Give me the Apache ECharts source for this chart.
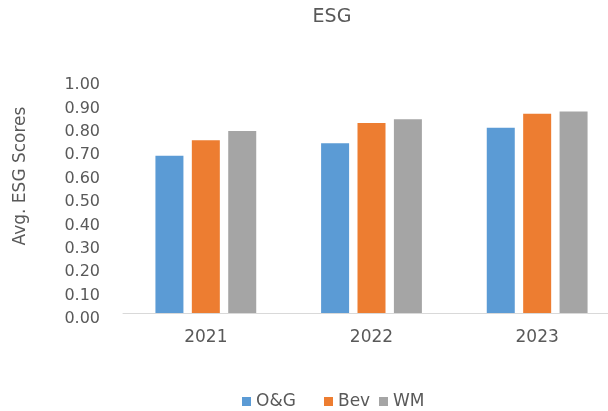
<!DOCTYPE html>
<html><head><meta charset="utf-8">
<script src="https://cdn.jsdelivr.net/npm/echarts@6/dist/echarts.min.js"></script>
<style>html,body{margin:0;padding:0;background:#fff;overflow:hidden}#c{width:620px;height:411px}</style>
</head><body><div id="c"></div>
<script>
const categories = ['2021', '2022', '2023'];
const seriesNames = ['O&G', 'Bev', 'WM'];
const ogValues = [0.672, 0.725, 0.792];
const bevValues = [0.738, 0.812, 0.852];
const wmValues = [0.778, 0.828, 0.861];
const colors = ['#5B9BD5', '#ED7D31', '#A5A5A5'];
const FONT = 'DejaVu Sans';
const chart = echarts.init(document.getElementById('c'));
const data = [ogValues, bevValues, wmValues];
const legendLefts = [242, 324, 379];
chart.setOption({
  animation: false,
  title: { text: 'ESG', left: 332, top: 8, textAlign: 'center', padding: 0,
    textStyle: { fontFamily: FONT, fontSize: 19, fontWeight: 'normal', color: '#595959' } },
  grid: { left: 123, top: 79, width: 497, height: 234, containLabel: false },
  legend: seriesNames.map((n, i) => ({
    left: legendLefts[i], top: 393, padding: 0, itemWidth: 9, itemHeight: 9, icon: 'rect', itemGap: 0,
    textStyle: { fontFamily: FONT, fontSize: 17, color: '#595959' }, data: [n]
  })),
  xAxis: { type: 'category', data: categories,
    axisLine: { lineStyle: { color: '#D9D9D9', width: 1 } }, axisTick: { show: false },
    axisLabel: { fontFamily: FONT, fontSize: 17, color: '#595959', margin: 16 } },
  yAxis: { type: 'value', min: 0, max: 1, interval: 0.1,
    name: 'Avg. ESG Scores', nameLocation: 'middle', nameGap: 94, nameRotate: 90,
    nameTextStyle: { fontFamily: FONT, fontSize: 17, color: '#595959', padding: [0, 0, 0, 40] },
    axisLine: { show: false }, axisTick: { show: false }, splitLine: { show: false },
    axisLabel: { fontFamily: FONT, fontSize: 16, color: '#595959', margin: 23,
      verticalAlign: 'top', lineHeight: 12, formatter: v => v.toFixed(2) } },
  series: seriesNames.map((n, i) => ({
    name: n, type: 'bar', data: data[i], barWidth: 28, barGap: '30%',
    itemStyle: { color: colors[i] }
  }))
});
</script></body></html>
